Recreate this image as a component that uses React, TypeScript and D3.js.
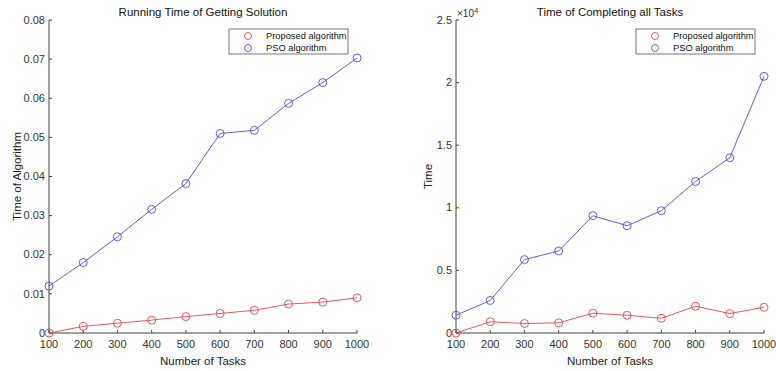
import * as d3 from 'd3';

const tasks = [100, 200, 300, 400, 500, 600, 700, 800, 900, 1000];

// left chart: running time of getting solution
const proposedRun = [0, 0.0017, 0.0025, 0.0033, 0.0042, 0.005, 0.0058, 0.0074, 0.0079, 0.009];
const psoRun = [0.012, 0.018, 0.0246, 0.0316, 0.0382, 0.051, 0.0518, 0.0587, 0.064, 0.0703];
const runTicks = [0, 0.01, 0.02, 0.03, 0.04, 0.05, 0.06, 0.07, 0.08];

// right chart: time of completing all tasks (x10^4)
const proposedTotal = [0, 0.09, 0.076, 0.081, 0.158, 0.142, 0.118, 0.214, 0.155, 0.206];
const psoTotal = [0.142, 0.26, 0.586, 0.655, 0.937, 0.857, 0.977, 1.21, 1.40, 2.05];
const totalTicks = [0, 0.5, 1, 1.5, 2, 2.5];

const RED = '#e4474b';
const BLUE = '#4d4de4';
const AXIS = '#404040';
const FONT = 'Liberation Sans, Arial, sans-serif';

type PanelProps = {
    left: number;
    right: number;
    top: number;
    bottom: number;
    yMax: number;
    yTicks: number[];
    yFormat: (v: number) => string;
    proposed: number[];
    pso: number[];
    title: string;
    yLabel: string;
    yLabelX: number;
    exponent?: boolean;
};

function Panel(p: PanelProps) {
    const x = d3.scaleLinear().domain([100, 1000]).range([p.left, p.right]);
    const y = d3.scaleLinear().domain([0, p.yMax]).range([p.bottom, p.top]);
    const line = d3.line<number>()
        .x((_d, i) => x(tasks[i]))
        .y(d => y(d));

    const series = [
        { values: p.proposed, color: RED, label: 'Proposed algorithm' },
        { values: p.pso, color: BLUE, label: 'PSO algorithm' },
    ];

    const lx = p.right - 128;
    const ly = 29;

    return (
        <g fontFamily={FONT}>
            {/* axes */}
            <line x1={p.left} x2={p.left} y1={p.top} y2={p.bottom} stroke={AXIS} strokeWidth={1} />
            <line x1={p.left} x2={p.right} y1={p.bottom} y2={p.bottom} stroke={AXIS} strokeWidth={1} />
            {p.yTicks.map(t => (
                <g key={'y' + t}>
                    <line x1={p.left} x2={p.left + 3} y1={y(t)} y2={y(t)} stroke={AXIS} />
                    <text x={p.left - 4} y={y(t)} dy="0.33em" textAnchor="end" fontSize={11} fill="#333">
                        {p.yFormat(t)}
                    </text>
                </g>
            ))}
            {tasks.map(t => (
                <g key={'x' + t}>
                    <line x1={x(t)} x2={x(t)} y1={p.bottom} y2={p.bottom - 3} stroke={AXIS} />
                    <text x={x(t)} y={p.bottom + 15} textAnchor="middle" fontSize={11} fill="#333">{t}</text>
                </g>
            ))}
            {p.exponent && (
                <text x={p.left + 1} y={17} fontSize={10} fill="#333">
                    ×10<tspan dy={-4} fontSize={8}>4</tspan>
                </text>
            )}
            <text x={(p.left + p.right) / 2} y={16} textAnchor="middle" fontSize={11.5} fill="#111">{p.title}</text>
            <text x={(p.left + p.right) / 2} y={365} textAnchor="middle" fontSize={11.5} fill="#222">Number of Tasks</text>
            <text transform={`translate(${p.yLabelX},${(p.top + p.bottom) / 2}) rotate(-90)`} textAnchor="middle"
                fontSize={11.5} fill="#222">{p.yLabel}</text>

            {/* series */}
            {series.map(s => (
                <g key={s.label}>
                    <path d={line(s.values) || ''} fill="none" stroke={s.color} strokeWidth={0.9} />
                    {s.values.map((v, i) => (
                        <circle key={i} cx={x(tasks[i])} cy={y(v)} r={4} fill="none" stroke={s.color} strokeWidth={0.9} />
                    ))}
                </g>
            ))}

            {/* legend */}
            <rect x={lx} y={ly} width={119} height={25} fill="#fff" stroke="#555" strokeWidth={0.8} />
            {series.map((s, i) => (
                <g key={'lg' + i}>
                    <circle cx={lx + 19} cy={ly + 7 + i * 12} r={3.5} fill="none" stroke={s.color} strokeWidth={0.9} />
                    <text x={lx + 37} y={ly + 7 + i * 12} dy="0.35em" fontSize={9.3} fill="#111">{s.label}</text>
                </g>
            ))}
        </g>
    );
}

export default function App() {
    return (
        <svg width={776} height={371} style={{ position: 'absolute', left: 0, top: 0, background: '#fff' }}>
            <rect width={776} height={371} fill="#fff" />
            <Panel
                left={49} right={357} top={20} bottom={333}
                yMax={0.08} yTicks={runTicks} yFormat={v => (v === 0 ? '0' : d3.format('.2f')(v))}
                proposed={proposedRun} pso={psoRun}
                title="Running Time of Getting Solution" yLabel="Time of Algorithm" yLabelX={21}
            />
            <Panel
                left={456} right={764} top={20} bottom={333}
                yMax={2.5} yTicks={totalTicks} yFormat={v => String(v)}
                proposed={proposedTotal} pso={psoTotal}
                title="Time of Completing all Tasks" yLabel="Time" yLabelX={432} exponent
            />
        </svg>
    );
}
